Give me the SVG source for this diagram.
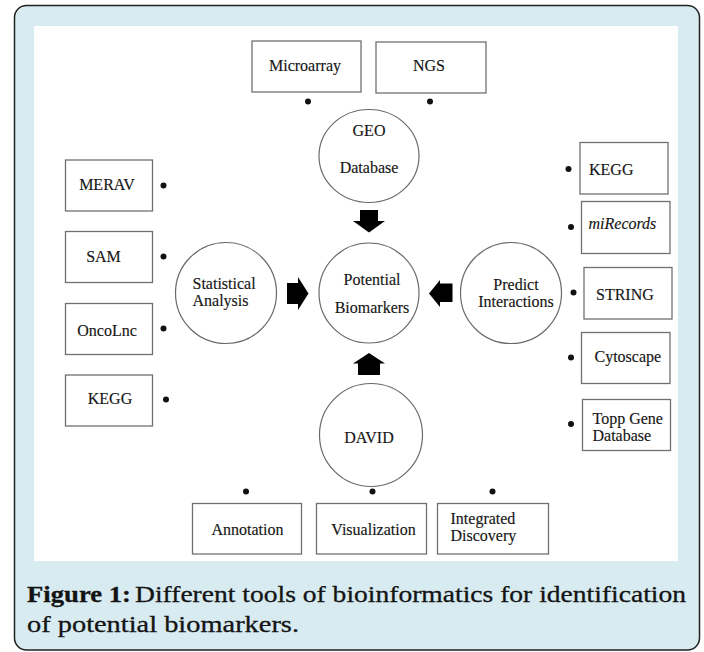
<svg xmlns="http://www.w3.org/2000/svg" width="704" height="652" viewBox="0 0 704 652">
<style>
.box{fill:#fff;stroke:#707070;stroke-width:1.3}
.circ{fill:#fff;stroke:#6a6a6a;stroke-width:1.2}
.t{font-family:"Liberation Serif","Times New Roman",serif;font-size:16px;fill:#161616;stroke:#161616;stroke-width:0.15}
.m{text-anchor:middle}
.dot{fill:#111}
.arr{fill:#000}
.cap{font-family:"Liberation Serif","Times New Roman",serif;font-size:23.5px;fill:#141414;stroke:#141414;stroke-width:0.3}
</style>
<rect x="14.5" y="5.5" width="685" height="644.5" rx="12" ry="12" fill="#d7ebf1" stroke="#222" stroke-width="1.5"/>
<rect x="34" y="26" width="644" height="535" fill="#fff"/>

<g id="microarray"><rect class="box" x="252" y="41" width="109" height="51"/><text class="t m" x="305" y="71">Microarray</text><circle class="dot" cx="308" cy="101.5" r="3"/></g>
<g id="ngs"><rect class="box" x="376" y="42" width="110" height="51"/><text class="t m" x="429" y="71">NGS</text><circle class="dot" cx="430" cy="101.5" r="3"/></g>
<g id="geo"><ellipse class="circ" cx="369" cy="156" rx="50" ry="46.5"/><text class="t m" x="369" y="136">GEO</text><text class="t m" x="369" y="173">Database</text></g>
<g id="potential"><circle class="circ" cx="369" cy="293" r="50"/><text class="t m" x="372" y="285">Potential</text><text class="t m" x="372" y="313">Biomarkers</text></g>
<g id="statistical"><circle class="circ" cx="226" cy="293" r="50.5"/><text class="t" x="192.5" y="288.5">Statistical</text><text class="t" x="192.5" y="306">Analysis</text></g>
<g id="predict"><circle class="circ" cx="511" cy="293" r="50.5"/><text class="t m" x="516" y="289.5">Predict</text><text class="t m" x="516" y="307">Interactions</text></g>
<g id="david"><circle class="circ" cx="371" cy="435" r="51.5"/><text class="t m" x="369" y="443">DAVID</text></g>

<g id="merav"><rect class="box" x="65.5" y="160" width="87" height="51"/><text class="t m" x="107" y="189.5">MERAV</text><circle class="dot" cx="163.5" cy="185.5" r="3"/></g>
<g id="sam"><rect class="box" x="65.5" y="231.5" width="87" height="51"/><text class="t m" x="103.5" y="262">SAM</text><circle class="dot" cx="163.5" cy="256.5" r="3"/></g>
<g id="oncolnc"><rect class="box" x="65.5" y="303.5" width="87" height="51"/><text class="t m" x="107" y="336">OncoLnc</text><circle class="dot" cx="163.5" cy="328.5" r="3"/></g>
<g id="kegg-left"><rect class="box" x="65.5" y="375" width="87" height="51"/><text class="t m" x="110" y="403.5">KEGG</text><circle class="dot" cx="166" cy="399.5" r="3"/></g>

<g id="kegg-right"><rect class="box" x="580" y="142.5" width="88" height="51.5"/><text class="t" x="589" y="175">KEGG</text><circle class="dot" cx="568.5" cy="169" r="3"/></g>
<g id="mirecords"><rect class="box" x="581.5" y="201.5" width="88.5" height="52"/><text class="t" x="588.5" y="228.5" font-style="italic">miRecords</text><circle class="dot" cx="571" cy="227" r="3"/></g>
<g id="string"><rect class="box" x="584" y="267.5" width="88" height="51.5"/><text class="t" x="596" y="300">STRING</text><circle class="dot" cx="573.5" cy="292.5" r="3"/></g>
<g id="cytoscape"><rect class="box" x="581.5" y="332.5" width="88.5" height="51"/><text class="t" x="594.5" y="362">Cytoscape</text><circle class="dot" cx="571" cy="357.5" r="3"/></g>
<g id="toppgene"><rect class="box" x="582.5" y="399.5" width="88" height="51"/><text class="t" x="592.5" y="423.5">Topp Gene</text><text class="t" x="592.5" y="441">Database</text><circle class="dot" cx="571" cy="424" r="3"/></g>

<g id="annotation"><rect class="box" x="192.5" y="503.5" width="109" height="50.5"/><text class="t m" x="247.5" y="534.5">Annotation</text><circle class="dot" cx="246" cy="491.5" r="3"/></g>
<g id="visualization"><rect class="box" x="316.5" y="503.5" width="110" height="50.5"/><text class="t m" x="373.5" y="534.5">Visualization</text><circle class="dot" cx="372.5" cy="491.5" r="3"/></g>
<g id="integrated"><rect class="box" x="437.5" y="503.5" width="111" height="50.5"/><text class="t" x="450.5" y="523.5">Integrated</text><text class="t" x="450.5" y="541">Discovery</text><circle class="dot" cx="492.5" cy="491.5" r="3"/></g>

<g id="connectors">
<polygon class="arr" points="360,210 378,210 378,221 385,221 369,232.5 353,221 360,221"/>
<polygon class="arr" points="369,353 385,363.5 380,363.5 380,375 358,375 358,363.5 353,363.5"/>
<polygon class="arr" points="287,283 298,283 298,277 308.5,293.5 298,310 298,304 287,304"/>
<polygon class="arr" points="429,293.5 440,280 440,283.5 452.5,283.5 452.5,302 440,302 440,307"/>
</g>

<text class="cap" x="27" y="602" font-weight="bold" textLength="104" lengthAdjust="spacingAndGlyphs">Figure 1:</text>
<text class="cap" x="135" y="602" textLength="551" lengthAdjust="spacingAndGlyphs">Different tools of bioinformatics for identification</text>
<text class="cap" x="27" y="631.5" textLength="272" lengthAdjust="spacingAndGlyphs">of potential biomarkers.</text>
</svg>
